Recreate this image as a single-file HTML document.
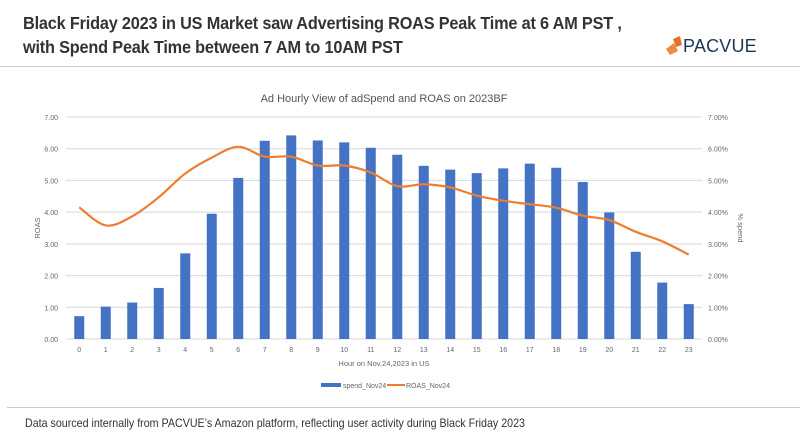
<!DOCTYPE html>
<html><head><meta charset="utf-8">
<style>
body{margin:0;background:#fff;}
#wrap{position:relative;width:800px;height:447px;overflow:hidden;font-family:"Liberation Sans",sans-serif;}
.title{position:absolute;left:23px;top:11px;font-size:17.5px;font-weight:bold;color:#333;line-height:24px;letter-spacing:-0.2px;transform:scaleX(0.93);transform-origin:0 0;white-space:nowrap;}
.foot{position:absolute;left:25px;top:416px;font-size:12px;color:#333;transform:scaleX(0.89);transform-origin:0 0;white-space:nowrap;}
</style></head><body>
<div id="wrap">
<div class="title">Black Friday 2023 in US Market saw Advertising ROAS Peak Time at 6 AM PST ,<br>with Spend Peak Time between 7 AM to 10AM PST</div>
<div style="position:absolute;left:664px;top:34px;height:22px;">
<svg width="20" height="20" style="position:absolute;left:0;top:1px"><polygon points="2,14 10,8 14,16 6,20" fill="#f08a3c"/><polygon points="9,4 16,1 18,10 12,12" fill="#e8702a"/></svg>
<span style="position:absolute;left:19px;top:2px;font-size:18px;color:#1d3558;letter-spacing:0.2px;">PACVUE</span>
</div>
<div style="position:absolute;left:0;top:66px;width:800px;height:1px;background:#c8ccd2"></div>
<svg id="chart" width="800" height="447" style="position:absolute;left:0;top:0"></svg>
<div style="position:absolute;left:7px;top:407px;width:793px;height:1px;background:#c8ccd2"></div>
<div class="foot">Data sourced internally from PACVUE’s Amazon platform, reflecting user activity during Black Friday 2023</div>
</div>
<script>
const hours=["0","1","2","3","4","5","6","7","8","9","10","11","12","13","14","15","16","17","18","19","20","21","22","23"];
const spendPct=[0.72,1.02,1.15,1.61,2.70,3.95,5.08,6.25,6.42,6.26,6.20,6.03,5.81,5.46,5.34,5.23,5.38,5.53,5.40,4.95,3.99,2.75,1.78,1.10];
const roas=[4.15,3.58,3.87,4.47,5.22,5.72,6.06,5.75,5.75,5.47,5.47,5.25,4.82,4.88,4.78,4.52,4.36,4.25,4.14,3.89,3.75,3.38,3.08,2.66];
const leftTicks=["0.00","1.00","2.00","3.00","4.00","5.00","6.00","7.00"];
const rightTicks=["0.00%","1.00%","2.00%","3.00%","4.00%","5.00%","6.00%","7.00%"];

const svg=document.getElementById('chart');
const NS="http://www.w3.org/2000/svg";
const X0=66,X1=702,Y0=339,Y1=117,MAX=7;
const step=(X1-X0)/hours.length;
function x(i){return X0+step*(i+0.5);}
function y(v){return Y0-(v/MAX)*(Y0-Y1);}
function mk(tag,attrs,txt){const e=document.createElementNS(NS,tag);for(const k in attrs)e.setAttribute(k,attrs[k]);if(txt!==undefined)e.textContent=txt;svg.appendChild(e);return e;}
const tf='font-family:"Liberation Sans",sans-serif;';

let t=mk('text',{x:384,y:102,'text-anchor':'middle','font-size':11,fill:'#555',style:tf},'Ad Hourly View of adSpend and ROAS on 2023BF');



leftTicks.forEach((lab,i)=>{
  const yy=y(i);
  const g=mk('line',{x1:X0,x2:X1,y1:yy,y2:yy,stroke:'#d9d9d9','stroke-width':1});
  
  
  const a=mk('text',{x:X0-8,y:yy+3,'text-anchor':'end','font-size':7,fill:'#666',style:tf},lab);
  
  
  const b=mk('text',{x:X1+6,y:yy+3,'text-anchor':'start','font-size':7,fill:'#666',style:tf},rightTicks[i]);
  
  
});

spendPct.forEach((v,i)=>{
  const r=mk('rect',{x:x(i)-5,y:y(v),width:10,height:Y0-y(v),fill:'#4472c4'});
  
  
});
hours.forEach((h,i)=>{
  const l=mk('text',{x:x(i),y:352,'text-anchor':'middle','font-size':7,fill:'#666',style:tf},h);
  
  
});

const pts=roas.map((v,i)=>[x(i),y(v)]);
let d='M'+pts[0][0]+','+pts[0][1];
for(let i=0;i<pts.length-1;i++){
  const p0=pts[Math.max(0,i-1)],p1=pts[i],p2=pts[i+1],p3=pts[Math.min(pts.length-1,i+2)];
  const c1=[p1[0]+(p2[0]-p0[0])/6,p1[1]+(p2[1]-p0[1])/6];
  const c2=[p2[0]-(p3[0]-p1[0])/6,p2[1]-(p3[1]-p1[1])/6];
  d+=' C'+c1[0]+','+c1[1]+' '+c2[0]+','+c2[1]+' '+p2[0]+','+p2[1];
}
const ln=mk('path',{d:d,fill:'none',stroke:'#ed7d31','stroke-width':2.2,'stroke-linejoin':'round'});



t=mk('text',{x:384,y:366,'text-anchor':'middle','font-size':7.5,fill:'#666',style:tf},'Hour on Nov.24,2023 in US');


t=mk('text',{x:40,y:228,'text-anchor':'middle','font-size':7.5,fill:'#666',style:tf,transform:'rotate(-90 40 228)'},'ROAS');


t=mk('text',{x:738,y:228,'text-anchor':'middle','font-size':7.5,fill:'#666',style:tf,transform:'rotate(90 738 228)'},'% spend');



let lg=mk('rect',{x:321,y:383,width:20,height:4,fill:'#4472c4'});


t=mk('text',{x:343,y:388,'font-size':7,fill:'#666',style:tf},'spend_Nov24');


lg=mk('line',{x1:387,x2:405,y1:385,y2:385,stroke:'#ed7d31','stroke-width':2});


t=mk('text',{x:406,y:388,'font-size':7,fill:'#666',style:tf},'ROAS_Nov24');


</script>
</body></html>
